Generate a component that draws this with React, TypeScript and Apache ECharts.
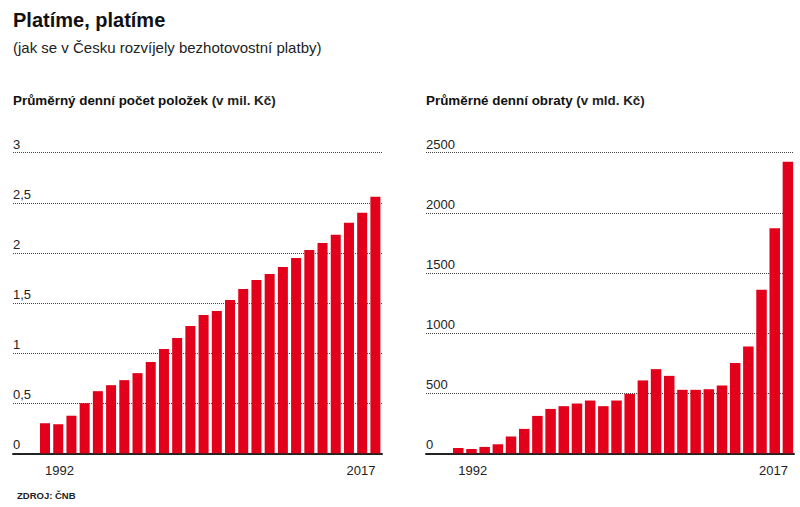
import React, { useEffect, useRef } from "react";
import * as echarts from "echarts";

const years = Array.from({ length: 26 }, (_, i) => String(1992 + i));
const itemsCount = [0.3, 0.29, 0.375, 0.5, 0.62, 0.68, 0.73, 0.8, 0.91, 1.04, 1.15, 1.27, 1.38, 1.42, 1.53, 1.64, 1.73, 1.79, 1.86, 1.95, 2.03, 2.1, 2.18, 2.3, 2.4, 2.56];
const turnover = [44, 36, 53, 75, 139, 203, 311, 369, 392, 414, 439, 392, 439, 494, 606, 700, 644, 528, 528, 533, 564, 750, 889, 1361, 1872, 2425];
const leftTicks = { min: 0, max: 3, interval: 0.5 };
const rightTicks = { min: 0, max: 2500, interval: 500 };

const FONT = "'Liberation Sans', Arial, sans-serif";
const RED = "#e2001a";
const TXT = "#222";

export default function App() {
  const ref = useRef<HTMLDivElement>(null);
  useEffect(() => {
    const chart = echarts.init(ref.current!, null, { renderer: "svg" });
    const top = 152.7;
    const bottom = 507 - 453.3;
    const axisGrid = (idx: number, t: any, fmt: (v: number) => string) => ({
      y: {
        type: "value",
        gridIndex: idx,
        min: t.min,
        max: t.max,
        interval: t.interval,
        axisLine: { show: false },
        axisTick: { show: false },
        splitLine: { show: true, lineStyle: { type: "dotted", color: "#444", width: 1 } },
        axisLabel: {
          inside: true,
          margin: 0,
          verticalAlign: "bottom",
          padding: [0, 0, 2, 0],
          color: TXT,
          fontFamily: FONT,
          fontSize: 13,
          formatter: fmt,
        },
      },
      x: {
        type: "category",
        gridIndex: idx,
        data: ["x"],
        axisLine: { show: true, lineStyle: { color: "#222", width: 2 } },
        axisTick: { show: false },
        axisLabel: { show: false },
      },
    });
    const barAxes = (idx: number, t: any) => ({
      y: {
        type: "value",
        gridIndex: idx,
        min: t.min,
        max: t.max,
        interval: t.interval,
        show: false,
        splitLine: { show: false },
      },
      x: {
        type: "category",
        gridIndex: idx,
        data: years,
        axisLine: { show: false },
        axisTick: { show: false },
        axisLabel: {
          interval: (i: number) => i === 0 || i === years.length - 1,
          alignMinLabel: "left",
          alignMaxLabel: "right",
          margin: 11,
          color: TXT,
          fontFamily: FONT,
          fontSize: 13,
        },
      },
    });
    const la = axisGrid(0, leftTicks, (v) => String(v).replace(".", ","));
    const lb = barAxes(1, leftTicks);
    const ra = axisGrid(2, rightTicks, (v) => String(v));
    const rb = barAxes(3, rightTicks);
    const rich = {
      b: { fontFamily: FONT, fontWeight: "bold", fontSize: 13.4, color: "#111" },
      n: { fontFamily: FONT, fontSize: 13.4, color: "#222" },
    };
    chart.setOption({
      animation: false,
      backgroundColor: "#fff",
      title: [
        { text: "Platíme, platíme", left: 13, top: 10, padding: 0, textStyle: { fontFamily: FONT, fontWeight: "bold", fontSize: 20, color: "#111" } },
        { text: "(jak se v Česku rozvíjely bezhotovostní platby)", left: 13, top: 40, padding: 0, textStyle: { fontFamily: FONT, fontWeight: "normal", fontSize: 15, color: "#222" } },
        { text: "{b|Průměrný denní počet položek}{n| (v mil. Kč)}", left: 13, top: 94, padding: 0, textStyle: { rich } },
        { text: "{b|Průměrné denní obraty}{n| (v mld. Kč)}", left: 426, top: 94, padding: 0, textStyle: { rich } },
        { text: "ZDROJ: ČNB", left: 17, top: 490, padding: 0, textStyle: { fontFamily: FONT, fontWeight: "bold", fontSize: 9.5, color: "#222" } },
      ],
      grid: [
        { left: 13, right: 418, top, bottom },
        { left: 38.4, right: 418, top, bottom },
        { left: 426, right: 6, top, bottom },
        { left: 451.7, right: 5.5, top, bottom },
      ],
      xAxis: [la.x, lb.x, ra.x, rb.x],
      yAxis: [la.y, lb.y, ra.y, rb.y],
      series: [
        { type: "bar", xAxisIndex: 1, yAxisIndex: 1, data: itemsCount, barWidth: 10, itemStyle: { color: RED }, silent: true },
        { type: "bar", xAxisIndex: 3, yAxisIndex: 3, data: turnover, barWidth: 10.5, itemStyle: { color: RED }, silent: true },
      ],
    });
    return () => chart.dispose();
  }, []);
  return <div ref={ref} style={{ position: "fixed", left: 0, top: 0, width: 800, height: 507 }} />;
}
